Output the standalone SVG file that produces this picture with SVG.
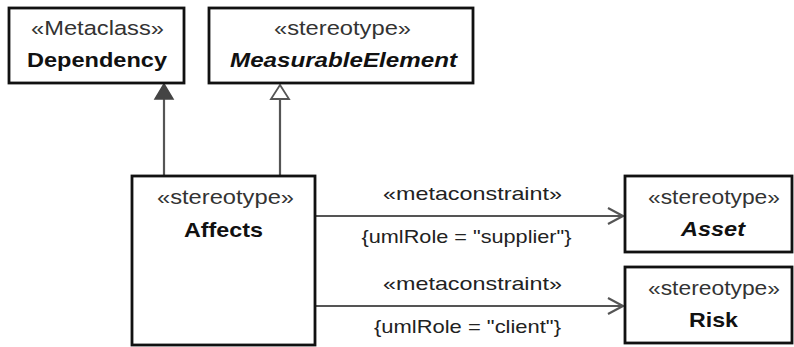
<svg xmlns="http://www.w3.org/2000/svg" width="794" height="347" viewBox="0 0 794 347">
<style>
.box{fill:#fff;stroke:#111;stroke-width:2.8}
.st{font-family:"Liberation Sans",Arial,sans-serif;font-size:20.5px;fill:#333;text-anchor:middle}
.nm{font-family:"Liberation Sans",Arial,sans-serif;font-size:20.5px;font-weight:bold;fill:#111;text-anchor:middle}
.it{font-style:italic}
.lbl{font-family:"Liberation Sans",Arial,sans-serif;font-size:19px;fill:#222;text-anchor:middle}
.ln{stroke:#555;stroke-width:2.2;fill:none}
</style>
<rect width="794" height="347" fill="#fff"/>
<g id="connectors">
  <line class="ln" x1="164" y1="176" x2="164" y2="97"/>
  <polygon points="164,84 155,99 173,99" fill="#444" stroke="#444" stroke-width="1.5"/>
  <line class="ln" x1="280" y1="176" x2="280" y2="99"/>
  <polygon points="280,85 271,99 289,99" fill="#fff" stroke="#555" stroke-width="1.8"/>
  <line class="ln" x1="315" y1="216" x2="623" y2="216"/>
  <polyline class="ln" points="608,208 623,216 608,224"/>
  <line class="ln" x1="315" y1="306" x2="623" y2="306"/>
  <polyline class="ln" points="608,298 623,306 608,314"/>
  <text class="lbl" x="472.5" y="200" textLength="179" lengthAdjust="spacingAndGlyphs">«metaconstraint»</text>
  <text class="lbl" x="466.5" y="243" textLength="210" lengthAdjust="spacingAndGlyphs">{umlRole = "supplier"}</text>
  <text class="lbl" x="472.5" y="290" textLength="179" lengthAdjust="spacingAndGlyphs">«metaconstraint»</text>
  <text class="lbl" x="467.5" y="333" textLength="187" lengthAdjust="spacingAndGlyphs">{umlRole = "client"}</text>
</g>
<g id="Dependency">
  <rect class="box" x="9" y="8" width="175" height="75"/>
  <text class="st" x="97.5" y="35" textLength="133" lengthAdjust="spacingAndGlyphs">«Metaclass»</text>
  <text class="nm" x="97" y="67" textLength="140" lengthAdjust="spacingAndGlyphs">Dependency</text>
</g>
<g id="MeasurableElement">
  <rect class="box" x="209" y="8" width="264" height="75"/>
  <text class="st" x="342.5" y="35" textLength="137" lengthAdjust="spacingAndGlyphs">«stereotype»</text>
  <text class="nm it" x="343.5" y="67" textLength="227" lengthAdjust="spacingAndGlyphs">MeasurableElement</text>
</g>
<g id="Affects">
  <rect class="box" x="132" y="176" width="183" height="169"/>
  <text class="st" x="225.5" y="204" textLength="137" lengthAdjust="spacingAndGlyphs">«stereotype»</text>
  <text class="nm" x="223.5" y="237" textLength="79" lengthAdjust="spacingAndGlyphs">Affects</text>
</g>
<g id="Asset">
  <rect class="box" x="625" y="176" width="167" height="76"/>
  <text class="st" x="714" y="204" textLength="132" lengthAdjust="spacingAndGlyphs">«stereotype»</text>
  <text class="nm it" x="713" y="236" textLength="64" lengthAdjust="spacingAndGlyphs">Asset</text>
</g>
<g id="Risk">
  <rect class="box" x="625" y="267" width="167" height="76"/>
  <text class="st" x="714" y="295" textLength="132" lengthAdjust="spacingAndGlyphs">«stereotype»</text>
  <text class="nm" x="713.5" y="327" textLength="49" lengthAdjust="spacingAndGlyphs">Risk</text>
</g>
</svg>
